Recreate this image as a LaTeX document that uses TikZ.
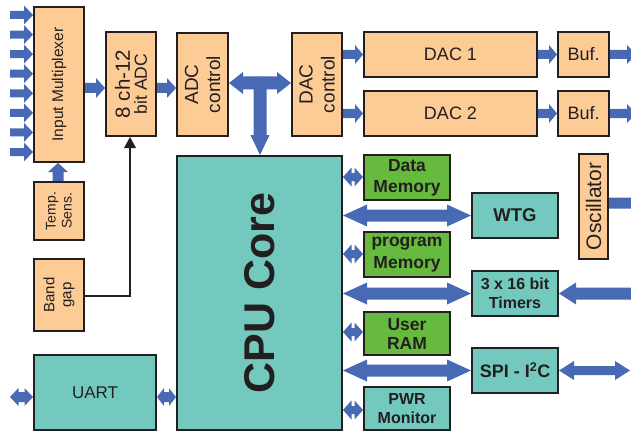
\documentclass[tikz,border=0pt]{standalone}
\usepackage{fontspec}
\setmainfont{Liberation Sans}
\usetikzlibrary{calc}
\definecolor{peach}{RGB}{252,203,150}
\definecolor{tealc}{RGB}{115,201,189}
\definecolor{grnc}{RGB}{102,187,62}
\definecolor{bluec}{RGB}{72,106,180}
\definecolor{bordc}{RGB}{35,31,32}
\newcommand{\fs}[2]{\fontsize{#1}{#2}\selectfont}
% single block arrow: from #1 to #2, half shaft #3, half head #4, head length #5
\newcommand{\sarrow}[5]{%
  \coordinate (tmpBL) at ($(#2)!#5!(#1)$);
  \fill[bluec] ($(#1)!#3!90:(#2)$) -- ($(tmpBL)!#3!90:(#2)$) -- ($(tmpBL)!#4!90:(#2)$) -- (#2)
     -- ($(tmpBL)!#4!-90:(#2)$) -- ($(tmpBL)!#3!-90:(#2)$) -- ($(#1)!#3!-90:(#2)$) -- cycle;}
% double block arrow
\newcommand{\darrow}[5]{%
  \coordinate (tmpAL) at ($(#1)!#5!(#2)$);
  \coordinate (tmpBL) at ($(#2)!#5!(#1)$);
  \fill[bluec] (#1) -- ($(tmpAL)!#4!90:(#2)$) -- ($(tmpAL)!#3!90:(#2)$) -- ($(tmpBL)!#3!90:(#2)$)
     -- ($(tmpBL)!#4!90:(#2)$) -- (#2) -- ($(tmpBL)!#4!-90:(#2)$) -- ($(tmpBL)!#3!-90:(#2)$)
     -- ($(tmpAL)!#3!-90:(#2)$) -- ($(tmpAL)!#4!-90:(#2)$) -- cycle;}
\tikzset{
  box/.style={draw=bordc, line width=2pt, inner sep=0pt},
  pbox/.style={box, fill=peach},
  tbox/.style={box, fill=tealc},
  gbox/.style={box, fill=grnc},
  lbl/.style={inner sep=0pt, align=center, text=bordc},
  rlbl/.style={lbl, rotate=90},
  wire/.style={draw=bordc, line width=2pt}
}
\begin{document}
\begin{tikzpicture}[x=1pt,y=-1pt]
\useasboundingbox (0,0) rectangle (631,433);
% boxes
\node[pbox, minimum width=50pt, minimum height=155pt] (mux) at (59,84.5) {};
\node[pbox, minimum width=50pt, minimum height=58pt] (temp) at (59,211) {};
\node[pbox, minimum width=50pt, minimum height=72pt] (band) at (59,295) {};
\node[pbox, minimum width=50pt, minimum height=104pt] (adc) at (131,84) {};
\node[pbox, minimum width=51pt, minimum height=103pt] (adcc) at (202.5,84.5) {};
\node[pbox, minimum width=50pt, minimum height=103pt] (dacc) at (317,84.5) {};
\node[pbox, minimum width=173pt, minimum height=45pt] (dac1) at (450.5,54.5) {};
\node[pbox, minimum width=173pt, minimum height=45pt] (dac2) at (450.5,113.5) {};
\node[pbox, minimum width=51pt, minimum height=45pt] (buf1) at (583.5,54.5) {};
\node[pbox, minimum width=51pt, minimum height=45pt] (buf2) at (583.5,113.5) {};
\node[tbox, minimum width=165pt, minimum height=274pt] (cpu) at (259.5,293) {};
\node[gbox, minimum width=86pt, minimum height=45pt] (dmem) at (407,177.5) {};
\node[gbox, minimum width=86pt, minimum height=45pt] (pmem) at (407,254.5) {};
\node[gbox, minimum width=86pt, minimum height=43pt] (uram) at (407,333.5) {};
\node[tbox, minimum width=86pt, minimum height=43pt] (pwr) at (407,408.5) {};
\node[tbox, minimum width=86pt, minimum height=45pt] (wtg) at (515,215.5) {};
\node[tbox, minimum width=86pt, minimum height=45pt] (tim) at (515,293.5) {};
\node[tbox, minimum width=86pt, minimum height=45pt] (spi) at (515,370.5) {};
\node[pbox, minimum width=29pt, minimum height=105pt] (osc) at (593.5,206.5) {};
\node[tbox, minimum width=122pt, minimum height=75pt] (uart) at (95,392.5) {};
% labels
\node[rlbl, font=\fs{15.5}{18}] (tmux) at (mux) {Input Multiplexer};
\node[rlbl, font=\fs{14}{16}] (ttemp) at (temp) {Temp.\\ Sens.};
\node[rlbl, font=\fs{15}{17}] (tband) at (band) {Band\\ gap};
\node[rlbl] (tadc) at (adc) {{\fs{20.5}{22}8 ch-12}\\[3pt]{\fs{17.5}{19}bit ADC}};
\node[rlbl, font=\fs{19}{22}] (tadcc) at (adcc) {ADC\\ control};
\node[rlbl, font=\fs{19}{22}] (tdacc) at (dacc) {DAC\\ control};
\node[lbl, font=\fs{18}{20}] (tdac1) at (dac1) {DAC 1};
\node[lbl, font=\fs{18}{20}] (tdac2) at (dac2) {DAC 2};
\node[lbl, font=\fs{18}{20}] (tbuf1) at (buf1) {Buf.};
\node[lbl, font=\fs{18}{20}] (tbuf2) at (buf2) {Buf.};
\node[rlbl, font=\bfseries\fs{43}{46}] (tcpu) at (cpu) {CPU Core};
\node[lbl, font=\bfseries\fs{17.5}{21}] (tdmem) at (dmem) {Data\\ Memory};
\node[lbl, font=\bfseries\fs{17.5}{22}] (tpmem) at (pmem) {program\\ Memory};
\node[lbl, font=\bfseries\fs{17.5}{19}] (turam) at (uram) {User\\ RAM};
\node[lbl, font=\bfseries\fs{16}{19}] (tpwr) at (pwr) {PWR\\ Monitor};
\node[lbl, font=\bfseries\fs{18.5}{20}] (twtg) at (wtg) {WTG};
\node[lbl, font=\bfseries\fs{16}{19}] (ttim) at (tim) {3 x 16 bit\\ Timers};
\node[lbl, font=\bfseries\fs{18}{20}] (tspi) at (spi) {SPI - I\textsuperscript{2}C};
\node[rlbl, font=\fs{21}{23}] (tosc) at (osc) {Oscillator};
\node[lbl, font=\fs{17}{19}] (tuart) at (uart) {UART};
% input arrows
\foreach \yy/\nm in {15/a,34.6/b,54.1/c,73.7/d,93.3/e,112.9/f,132.4/g,152/h}{
  \coordinate (in\nm) at (10,\yy);
  \coordinate (inb\nm) at (mux.west |- in\nm);
  \sarrow{in\nm}{inb\nm}{4pt}{9.5pt}{9pt}
}
\coordinate (ta) at (temp.north -| 58,0);
\coordinate (tb) at (mux.south -| 58,0);
\sarrow{ta}{tb}{5.5pt}{10pt}{9pt}
\coordinate (ma) at (mux.east |- 0,88);
\coordinate (mb) at (adc.west |- 0,88);
\sarrow{ma}{mb}{5pt}{10pt}{9pt}
\coordinate (aa) at (adc.east |- 0,88);
\coordinate (ab) at (adcc.west |- 0,88);
\sarrow{aa}{ab}{5pt}{10pt}{9pt}
% T junction
\coordinate (tj) at (260,77);
\coordinate (tjb) at (cpu.north -| tj);
\sarrow{tj}{tjb}{6.5pt}{9.5pt}{20pt}
\coordinate (ha) at (adcc.east |- 0,83);
\coordinate (hb) at (dacc.west |- 0,83);
\darrow{ha}{hb}{6.5pt}{11pt}{14pt}
% DAC arrows
\coordinate (d1a) at (dacc.east |- dac1);
\coordinate (d2a) at (dacc.east |- dac2);
\sarrow{d1a}{dac1.west}{4.5pt}{9.5pt}{8pt}
\sarrow{d2a}{dac2.west}{4.5pt}{9.5pt}{8pt}
\sarrow{dac1.east}{buf1.west}{4.5pt}{9.5pt}{8pt}
\sarrow{dac2.east}{buf2.west}{4.5pt}{9.5pt}{8pt}
\coordinate (o1) at (636,54.5);
\coordinate (o2) at (636,113.5);
\sarrow{buf1.east}{o1}{4.5pt}{9.5pt}{9pt}
\sarrow{buf2.east}{o2}{4.5pt}{9.5pt}{9pt}
% band gap wire
\coordinate (bw) at (130,296);
\coordinate (bt) at (adc.south -| bw);
\draw[wire] (band.east |- bw) -- (bw) -- ($(bt)+(0,10)$);
\fill[bordc] (bt) -- ($(bt)+(-6,11)$) -- ($(bt)+(6,11)$) -- cycle;
% CPU to memories
\foreach \yy/\bx/\nm in {177/dmem/m1,254/pmem/m2,332/uram/m3,410/pwr/m4}{
  \coordinate (\nm a) at (cpu.east |- 0,\yy);
  \coordinate (\nm b) at (\bx.west |- 0,\yy);
  \darrow{\nm a}{\nm b}{4pt}{9.5pt}{8.5pt}
}
% CPU to peripherals
\foreach \bx/\nm in {wtg/p1,tim/p2,spi/p3}{
  \coordinate (\nm a) at (cpu.east |- \bx);
  \darrow{\nm a}{\bx.west}{6pt}{11pt}{24pt}
}
% right edge
\coordinate (oo) at (641,203);
\coordinate (ooa) at (osc.east |- oo);
\sarrow{ooa}{oo}{5.5pt}{10.5pt}{9pt}
\coordinate (ti) at (640,293.5);
\sarrow{ti}{tim.east}{6pt}{11pt}{17pt}
\coordinate (si) at (630,370.5);
\darrow{spi.east}{si}{4.5pt}{9.5pt}{15pt}
% UART
\coordinate (ul) at (10,397);
\coordinate (ulb) at (uart.west |- ul);
\darrow{ul}{ulb}{5pt}{9pt}{8.5pt}
\coordinate (ura) at (uart.east |- ul);
\coordinate (urb) at (cpu.west |- ul);
\darrow{ura}{urb}{5pt}{9pt}{7pt}
\end{tikzpicture}
\end{document}
